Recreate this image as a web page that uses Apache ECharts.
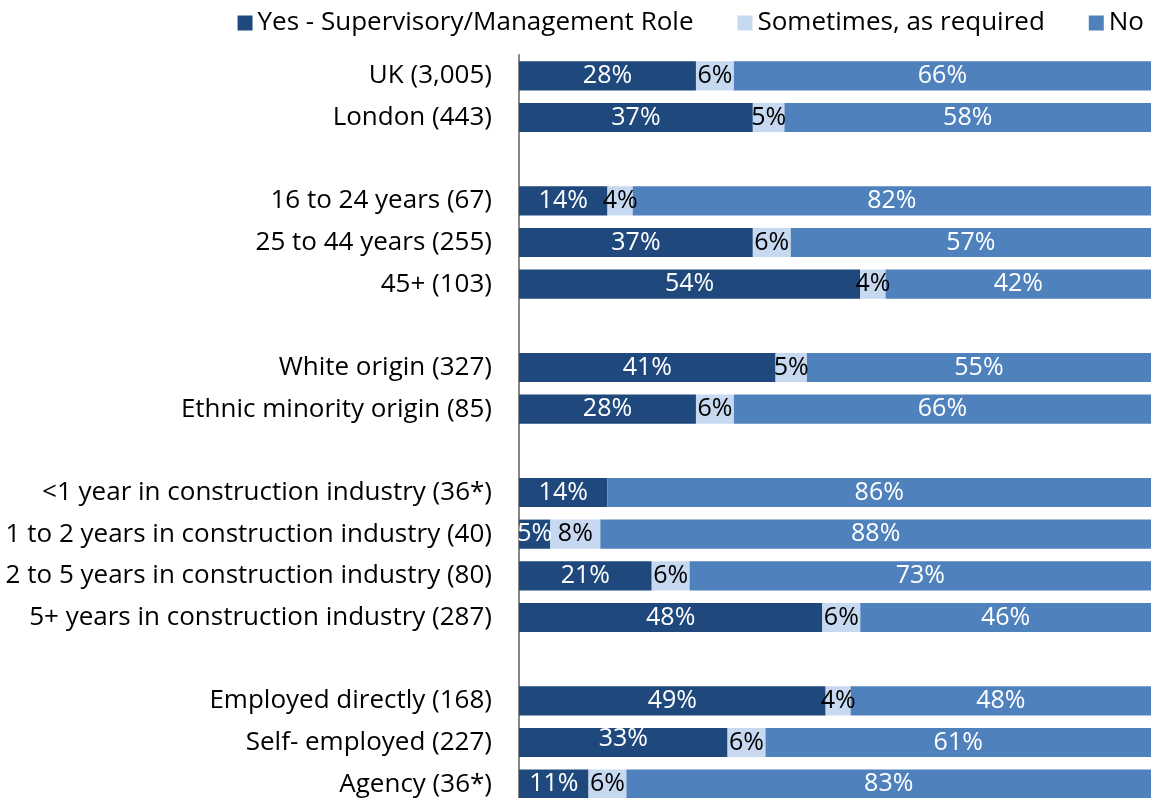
<!DOCTYPE html>
<html><head><meta charset="utf-8">
<script src="https://cdn.jsdelivr.net/npm/echarts@6/dist/echarts.min.js"></script>
<style>html,body{margin:0;padding:0;background:#fff;overflow:hidden}#c{width:1157px;height:805px}</style>
</head><body><div id="c"></div>
<script>
const categories = ["UK (3,005)","London (443)","","16 to 24 years (67)","25 to 44 years (255)","45+ (103)","","White origin (327)","Ethnic minority origin (85)","","<1 year in construction industry (36*)","1 to 2 years in construction industry (40)","2 to 5 years in construction industry (80)","5+ years in construction industry (287)","","Employed directly (168)","Self- employed (227)","Agency (36*)"];
const seriesNames = ["Yes - Supervisory/Management Role","Sometimes, as required","No"];
const yesVals = [28,37,null,14,37,54,null,41,28,null,14,5,21,48,null,49,33,11];
const sometimesVals = [6,5,null,4,6,4,null,5,6,null,0,8,6,6,null,4,6,6];
const noVals = [66,58,null,82,57,42,null,55,66,null,86,88,73,46,null,48,61,83];
const colors = ["#1f497d","#c6d9f1","#4f81bd"];
const labelColors = ["#ffffff","#000000","#ffffff"];
const FONT = "Open Sans";
const FS = 26;

const raw = [yesVals, sometimesVals, noVals];
const totals = categories.map((c,i)=> raw.reduce((s,a)=>s+(a[i]||0),0));
const chart = echarts.init(document.getElementById('c'));
chart.setOption({
  animation:false,
  textStyle:{fontFamily:FONT},
  legend:{
    right:8, top:5, itemWidth:15, itemHeight:15, itemGap:44,
    icon:'rect',
    textStyle:{fontSize:FS, color:'#000', fontFamily:FONT},
    data:seriesNames
  },
  grid:{left:519, right:6, top:55, bottom:0, containLabel:false},
  xAxis:{type:'value', min:0, max:100, show:false},
  yAxis:{type:'category', inverse:true, data:categories,
    axisLine:{show:true, lineStyle:{color:'#868686', width:2}},
    axisTick:{show:false},
    axisLabel:{fontSize:FS, color:'#000', margin:27, fontFamily:FONT}
  },
  series: raw.map((arr,k)=>({
    name:seriesNames[k], type:'bar', stack:'s', barWidth:'70%',
    itemStyle:{color:colors[k]},
    data: arr.map((v,i)=> {
      if (v===null||v===0) return null;
      const item = {value: v/totals[i]*100};
      if (k===0 && categories[i]==="Self- employed (227)") item.label = {offset:[0,-4]};
      return item;
    }),
    label:{show:true, position:'inside', color:labelColors[k], fontSize:25, fontFamily:FONT,
      formatter:(p)=> raw[k][p.dataIndex] + '%'}
  }))
});
</script></body></html>
